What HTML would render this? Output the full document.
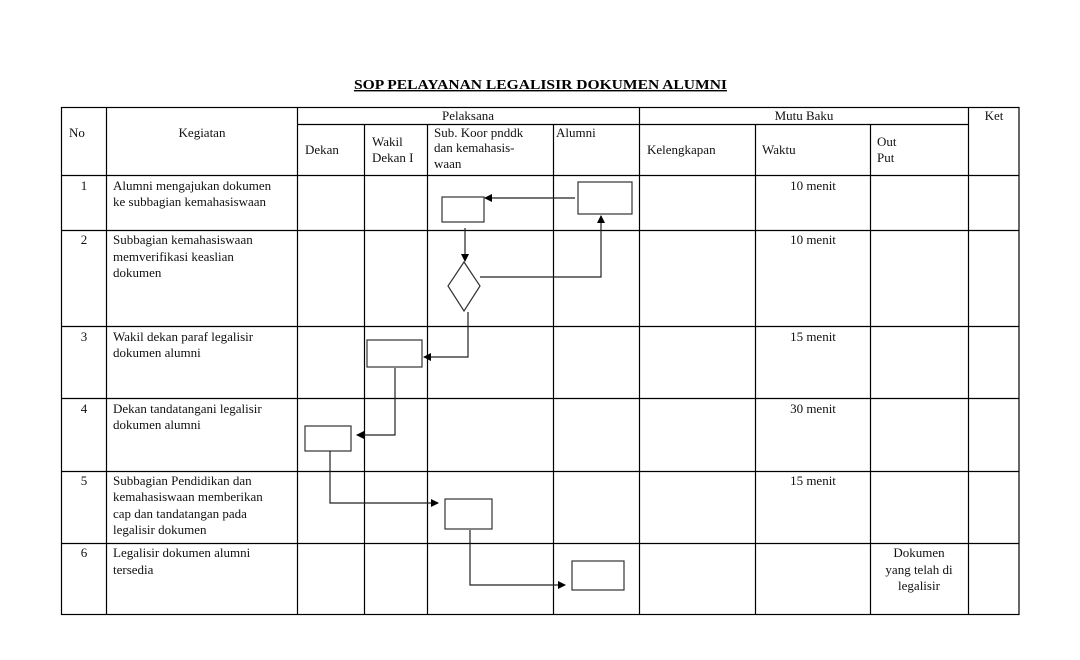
<!DOCTYPE html>
<html><head><meta charset="utf-8"><style>
html,body{margin:0;padding:0;background:#fff;}
svg{display:block;font-family:"Liberation Serif",serif;font-size:13px;}
</style></head><body>
<svg width="1080" height="660" viewBox="0 0 1080 660" xmlns="http://www.w3.org/2000/svg">
<defs><marker id="a" markerWidth="8" markerHeight="8" refX="7" refY="4" orient="auto" markerUnits="userSpaceOnUse"><path d="M0,0 L8,4 L0,8 z" fill="#000"/></marker></defs>
<text x="354" y="89" font-weight="bold" font-size="14" text-decoration="underline" textLength="373" lengthAdjust="spacingAndGlyphs">SOP PELAYANAN LEGALISIR DOKUMEN ALUMNI</text>
<g stroke="#000" stroke-width="1.2" fill="none">
<rect x="61.5" y="107.5" width="957.5" height="507"/>
<line x1="297.5" y1="124.5" x2="968.5" y2="124.5"/>
<g>
<line x1="106.5" y1="107.5" x2="106.5" y2="614.5"/>
<line x1="297.5" y1="107.5" x2="297.5" y2="614.5"/>
<line x1="364.5" y1="124.5" x2="364.5" y2="614.5"/>
<line x1="427.5" y1="124.5" x2="427.5" y2="614.5"/>
<line x1="553.5" y1="124.5" x2="553.5" y2="614.5"/>
<line x1="639.5" y1="107.5" x2="639.5" y2="614.5"/>
<line x1="755.5" y1="124.5" x2="755.5" y2="614.5"/>
<line x1="870.5" y1="124.5" x2="870.5" y2="614.5"/>
<line x1="968.5" y1="107.5" x2="968.5" y2="614.5"/>
</g>
<line x1="61.5" y1="175.5" x2="1019" y2="175.5"/>
<line x1="61.5" y1="230.5" x2="1019" y2="230.5"/>
<line x1="61.5" y1="326.5" x2="1019" y2="326.5"/>
<line x1="61.5" y1="398.5" x2="1019" y2="398.5"/>
<line x1="61.5" y1="471.5" x2="1019" y2="471.5"/>
<line x1="61.5" y1="543.5" x2="1019" y2="543.5"/>
</g>
<g stroke="#333" stroke-width="1.2" fill="#fff">
<rect x="442" y="197" width="42" height="25"/>
<rect x="578" y="182" width="54" height="32"/>
<polygon points="464,262 480,286 464,311 448,286"/>
<rect x="367" y="340" width="55" height="27"/>
<rect x="305" y="426" width="46" height="25"/>
<rect x="445" y="499" width="47" height="30"/>
<rect x="572" y="561" width="52" height="29"/>
</g>
<g stroke="#222" stroke-width="1.2" fill="none">
<line x1="575" y1="198" x2="485" y2="198" marker-end="url(#a)"/>
<line x1="465" y1="228" x2="465" y2="261" marker-end="url(#a)"/>
<polyline points="480,277 601,277 601,216" marker-end="url(#a)"/>
<polyline points="468,312 468,357 424,357" marker-end="url(#a)"/>
<polyline points="395,368 395,435 357,435" marker-end="url(#a)"/>
<polyline points="330,451 330,503 438,503" marker-end="url(#a)"/>
<polyline points="470,530 470,585 565,585" marker-end="url(#a)"/>
</g>
<g fill="#111">
<text x="77" y="137" text-anchor="middle">No</text>
<text x="202" y="137" text-anchor="middle">Kegiatan</text>
<text x="468" y="120" text-anchor="middle">Pelaksana</text>
<text x="804" y="120" text-anchor="middle">Mutu Baku</text>
<text x="994" y="120" text-anchor="middle">Ket</text>
<text x="305" y="154">Dekan</text>
<text x="372" y="146">Wakil</text><text x="372" y="162">Dekan I</text>
<text x="434" y="137">Sub. Koor pnddk</text><text x="434" y="152">dan  kemahasis-</text><text x="434" y="168">waan</text>
<text x="556" y="137">Alumni</text>
<text x="647" y="154">Kelengkapan</text>
<text x="762" y="154">Waktu</text>
<text x="877" y="146">Out</text><text x="877" y="162">Put</text>

<text x="84" y="190" text-anchor="middle">1</text>
<text x="113" y="190">Alumni mengajukan dokumen</text><text x="113" y="206">ke subbagian kemahasiswaan</text>
<text x="813" y="190" text-anchor="middle">10 menit</text>

<text x="84" y="244" text-anchor="middle">2</text>
<text x="113" y="244">Subbagian kemahasiswaan</text><text x="113" y="261">memverifikasi  keaslian</text><text x="113" y="277">dokumen</text>
<text x="813" y="244" text-anchor="middle">10 menit</text>

<text x="84" y="341" text-anchor="middle">3</text>
<text x="113" y="341">Wakil dekan paraf legalisir</text><text x="113" y="357">dokumen alumni</text>
<text x="813" y="341" text-anchor="middle">15 menit</text>

<text x="84" y="413" text-anchor="middle">4</text>
<text x="113" y="413">Dekan tandatangani legalisir</text><text x="113" y="429">dokumen alumni</text>
<text x="813" y="413" text-anchor="middle">30 menit</text>

<text x="84" y="485" text-anchor="middle">5</text>
<text x="113" y="485">Subbagian Pendidikan dan</text><text x="113" y="501">kemahasiswaan memberikan</text><text x="113" y="518">cap dan tandatangan pada</text><text x="113" y="534">legalisir dokumen</text>
<text x="813" y="485" text-anchor="middle">15 menit</text>

<text x="84" y="557" text-anchor="middle">6</text>
<text x="113" y="557">Legalisir dokumen alumni</text><text x="113" y="574">tersedia</text>
<text x="919" y="557" text-anchor="middle">Dokumen</text><text x="919" y="574" text-anchor="middle">yang telah di</text><text x="919" y="590" text-anchor="middle">legalisir</text>
</g>
</svg>
</body></html>
